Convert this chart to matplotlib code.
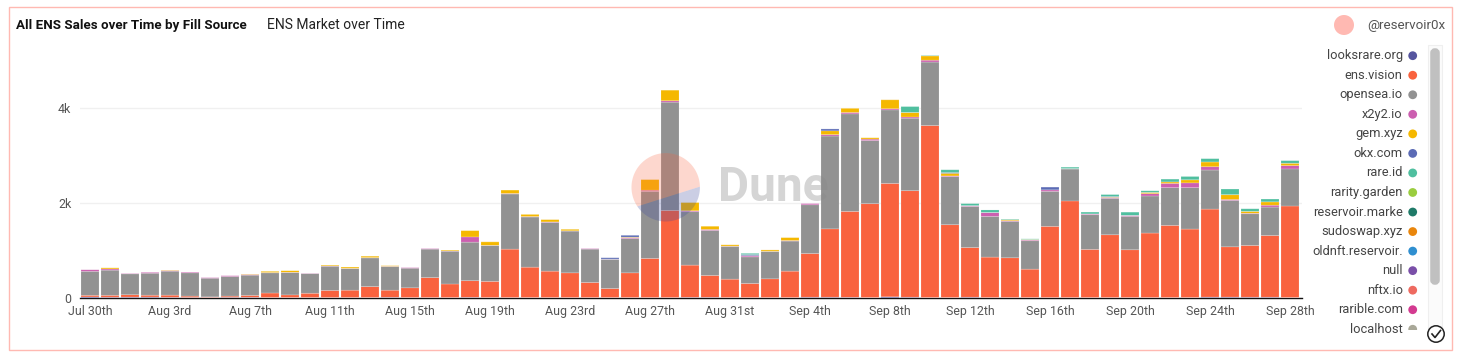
import matplotlib
matplotlib.use("Agg")
import matplotlib.pyplot as plt
from matplotlib.patches import Circle, Rectangle, FancyBboxPatch, Polygon
import numpy as np

plt.rcParams['font.family'] = ['Roboto', 'DejaVu Sans']

W, H = 1463, 359

x_tick_labels = ["Jul 30th", "Aug 3rd", "Aug 7th", "Aug 11th", "Aug 15th", "Aug 19th", "Aug 23rd", "Aug 27th",
                 "Aug 31st", "Sep 4th", "Sep 8th", "Sep 12th", "Sep 16th", "Sep 20th", "Sep 24th", "Sep 28th"]

looksrare = [15, 10, 12, 12, 8, 5, 5, 8, 8, 3, 3, 3, 3, 3, 3, 8, 3, 3, 3, 8,
             3, 3, 3, 3, 3, 3, 3, 3, 3, 3, 8, 8, 3, 3, 3, 3, 10, 10, 8, 3,
             18, 10, 3, 3, 10, 3, 3, 3, 3, 3, 3, 3, 3, 3, 3, 3, 12, 12, 10, 10, 3]
ens_vision = [35, 40, 50, 40, 45, 28, 12, 25, 40, 95, 55, 90, 150, 155, 230, 150, 205, 420, 285, 350,
              340, 1020, 640, 556, 520, 317, 190, 520, 824, 1837, 678, 460, 387, 296, 394, 556, 920, 1440, 1810, 1978,
              2390, 2245, 3625, 1535, 1046, 852, 838, 598, 1500, 2035, 1014, 1323, 1007, 1359, 1520, 1443, 1855, 1060, 1090, 1300, 1929]
opensea = [505, 530, 440, 463, 505, 490, 393, 413, 426, 425, 472, 416, 510, 456, 606, 498, 413, 600, 692, 812,
           757, 1162, 1057, 1028, 881, 703, 616, 723, 1414, 2281, 1126, 950, 690, 560, 577, 634, 1028, 1957, 2056, 1331,
           1549, 1528, 1338, 1013, 866, 858, 767, 599, 739, 675, 732, 767, 703, 781, 796, 873, 823, 978, 669, 599, 781]
x2y2 = [35, 25, 12, 22, 15, 18, 15, 20, 15, 5, 5, 8, 5, 3, 3, 5, 15, 15, 5, 110,
        3, 10, 8, 10, 5, 15, 3, 20, 25, 30, 20, 20, 5, 20, 3, 10, 30, 30, 30, 30,
        25, 25, 40, 15, 15, 80, 15, 15, 30, 3, 15, 15, 20, 50, 90, 100, 70, 20, 10, 40, 70]
gem = [0, 25, 0, 0, 10, 0, 0, 0, 10, 30, 35, 0, 20, 30, 35, 15, 0, 0, 20, 135,
       75, 75, 50, 50, 35, 0, 0, 10, 225, 225, 175, 70, 30, 5, 30, 65, 0, 80, 90, 30,
       190, 95, 90, 55, 0, 0, 20, 10, 0, 0, 0, 10, 0, 25, 30, 65, 100, 100, 40, 70, 50]
okx = [0, 0, 0, 0, 0, 0, 0, 0, 0, 0, 0, 0, 0, 0, 0, 0, 0, 0, 0, 0,
       0, 0, 0, 0, 0, 0, 30, 40, 0, 0, 0, 0, 0, 25, 0, 0, 0, 40, 0, 0,
       0, 0, 0, 15, 0, 0, 0, 0, 60, 0, 0, 15, 0, 0, 0, 0, 0, 0, 0, 0, 0]
rare_id = [0, 0, 0, 0, 0, 0, 0, 0, 0, 0, 0, 0, 0, 0, 0, 0, 0, 0, 0, 0,
           0, 0, 0, 0, 0, 0, 0, 0, 0, 0, 0, 0, 0, 25, 0, 0, 0, 0, 0, 0,
           0, 125, 10, 60, 45, 56, 15, 15, 0, 35, 40, 40, 70, 35, 60, 70, 70, 120, 55, 60, 55]

sources = ["looksrare.org", "ens.vision", "opensea.io", "x2y2.io", "gem.xyz", "okx.com", "rare.id", "rarity.garden",
           "reservoir.marke", "sudoswap.xyz", "oldnft.reservoir.", "null", "nftx.io", "rarible.com", "localhost"]
source_colors = ["#55559f", "#f9623e", "#929292", "#cc5fb0", "#f5b800", "#5b6bb5", "#4fbf9f", "#9acd3f",
                 "#1f7a68", "#e9860c", "#2f8fd0", "#7a4fa8", "#ee6a60", "#d33a90", "#a9a898"]

fig = plt.figure(figsize=(W / 100, H / 100), dpi=100, facecolor="white")
px = lambda x0, y0, x1, y1: [x0 / W, 1 - y1 / H, (x1 - x0) / W, (y1 - y0) / H]

ax = fig.add_axes(px(79.5, 50, 1302, 297.7))
days = np.arange(len(ens_vision))
bottom = np.zeros(len(days))
series = [looksrare, ens_vision, opensea, x2y2, gem, okx, rare_id]
for vals, c in zip(series, source_colors):
    v = np.array(vals, dtype=float)
    bars = ax.bar(days, v, bottom=bottom, width=0.9, color=c, linewidth=0, zorder=3)
    rims = ax.bar(days, v, bottom=bottom, width=0.9, color="none",
                  edgecolor=matplotlib.colors.to_rgba("#ffffff", 0.2), linewidth=0.5, zorder=4)
    for p in list(bars) + list(rims):
        p.set_snap(False)
    bottom += v

ax.set_xlim(-0.525, 60.6)
ax.set_ylim(0, 5221)
ax.set_yticks([0, 2000, 4000], ["0", "2k", "4k"])
ax.set_xticks(days[::4], x_tick_labels)
ax.grid(axis="y", color="#f0f0f0", linewidth=1, zorder=0)
ax.set_axisbelow(True)
for s in ["top", "right", "left"]:
    ax.spines[s].set_visible(False)
ax.spines["bottom"].set_color("#111111")
ax.spines["bottom"].set_linewidth(1)
ax.spines["bottom"].set_zorder(2)
ax.tick_params(axis="both", length=0, labelsize=8.9, labelcolor="#555555")
ax.tick_params(axis="x", pad=5)
ax.tick_params(axis="y", pad=6)

# overlay in pixel coordinates
ov = fig.add_axes([0, 0, 1, 1], facecolor="none")
ov.set_xlim(0, W)
ov.set_ylim(H, 0)
ov.axis("off")

ov.add_patch(Rectangle((8.5, 6.5), 1443, 343, fill=False, edgecolor="#ffb9b2", linewidth=1))
ov.text(16, 25, "All ENS Sales over Time by Fill Source", fontsize=9.6, fontweight="bold", color="#111111", va="center")
ov.text(267, 25, "ENS Market over Time", fontsize=10, color="#222222", va="center")
ov.add_patch(Circle((1344, 25), 10, color="#ffb9b2", lw=0))
ov.text(1445, 25, "@reservoir0x", fontsize=9.6, color="#555555", va="center", ha="right")

# watermark
cx, cy, r = 665.7, 187.3, 34.2
a_right, a_left = -1, 146
th_low = np.radians(np.linspace(a_right, a_left, 80))
th_up = np.radians(np.linspace(a_left, 359, 120))
ov.add_patch(Polygon(np.c_[cx + r * np.cos(th_up), cy + r * np.sin(th_up)], closed=True,
                     facecolor="#f9623e", alpha=0.25, lw=0, zorder=5))
ov.add_patch(Polygon(np.c_[cx + r * np.cos(th_low), cy + r * np.sin(th_low)], closed=True,
                     facecolor="#3f4a9e", alpha=0.27, lw=0, zorder=5))
ov.text(718, 188, "Dune", fontsize=34.5, fontweight="bold", color="#888888", alpha=0.35, va="center", zorder=6)

# legend
clip = Rectangle((1290, 45), 140, 284.5, transform=ov.transData)
for i, (name, c) in enumerate(zip(sources, source_colors)):
    y = 55.7 + i * 19.54
    t = ov.text(1402.7, y, name, fontsize=9.3, color="#444444", ha="right", va="center")
    t.set_clip_path(clip)
    m = ov.add_patch(Circle((1412.7, y), 4.4, color=c, lw=0))
    m.set_clip_path(clip)

# scrollbar
ov.add_patch(Rectangle((1427.5, 45), 14, 284, facecolor="#fbfbfb", edgecolor="#efefef", lw=0.8))
ov.add_patch(FancyBboxPatch((1433, 51), 4, 231, boxstyle="round,pad=0,rounding_size=2", mutation_scale=1,
                            facecolor="#c0c0c0", edgecolor="#c0c0c0", lw=4))
ov.add_patch(Circle((1436, 334), 8.2, facecolor="white", edgecolor="#222222", lw=1.1))
ov.plot([1432, 1435, 1440.5], [334, 337.5, 330.5], color="#222222", lw=1.2)

fig.savefig("out.png", dpi=100, facecolor="white")
